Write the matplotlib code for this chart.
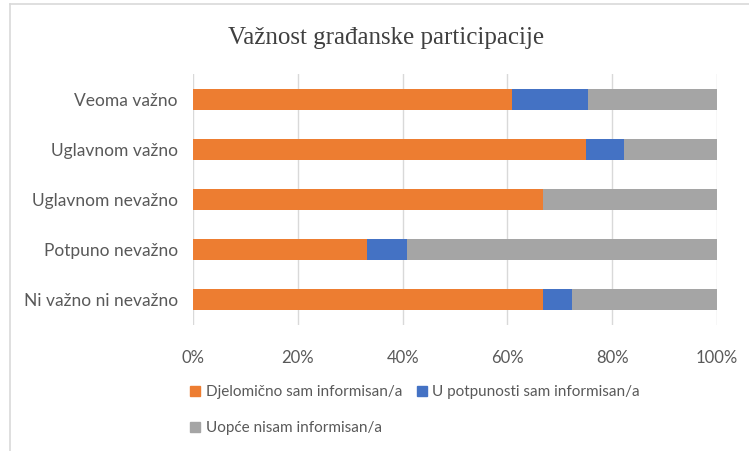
import numpy as np
import matplotlib
matplotlib.use('Agg')
import matplotlib.pyplot as plt
from matplotlib.lines import Line2D

categories = ['Ni važno ni nevažno', 'Potpuno nevažno', 'Uglavnom nevažno',
              'Uglavnom važno', 'Veoma važno']
djelomicno = [66.7, 33.3, 66.7, 75.0, 60.8]
potpuno = [5.6, 7.6, 0.0, 7.3, 14.6]
uopce = [27.7, 59.1, 33.3, 17.7, 24.6]
series_names = ['Djelomično sam informisan/a', 'U potpunosti sam informisan/a',
                'Uopće nisam informisan/a']
xticks = [0, 20, 40, 60, 80, 100]
xtick_labels = ['0%', '20%', '40%', '60%', '80%', '100%']

colors = ['#ED7D31', '#4472C4', '#A5A5A5']
text_col = '#595959'

plt.rcParams['font.family'] = ['Lato', 'DejaVu Sans']

fig = plt.figure(figsize=(7.49, 4.51), dpi=100)
W, H = 749, 451
ax = fig.add_axes([193 / W, 1 - 325 / H, 524 / W, 251 / H])

ind = np.arange(len(categories))
left = np.zeros(len(categories))
for vals, c in zip([djelomicno, potpuno, uopce], colors):
    ax.barh(ind, vals, height=0.42, left=left, color=c, zorder=3)
    left = left + np.array(vals)

ax.set_xlim(0, 100)
ax.set_ylim(-0.5, len(categories) - 0.5)
ax.set_xticks(xticks)
ax.set_xticklabels(xtick_labels, fontsize=12, color=text_col)
ax.set_yticks(ind)
ax.set_yticklabels(categories, fontsize=12.5, color=text_col)
ax.tick_params(length=0, pad=11)
ax.tick_params(axis='x', pad=18)
ax.grid(axis='x', color='#D9D9D9', linewidth=1, zorder=0)
for s in ax.spines.values():
    s.set_visible(False)

fig.text(386 / W, 1 - 38 / H, 'Važnost građanske participacije',
         family='Liberation Serif', fontsize=18, color='#404040',
         ha='center', va='center')

# legend, row-wise order
handles = [Line2D([], [], marker='s', linestyle='none', markersize=7.5,
                  color=c) for c in colors]
order = [0, 2, 1]
leg = fig.legend([handles[i] for i in order], [series_names[i] for i in order],
                 ncol=2, loc='upper left', bbox_to_anchor=(184 / W, 1 - 379 / H),
                 frameon=False, fontsize=11, handlelength=0.7,
                 handletextpad=0.35, columnspacing=0.9, labelspacing=1.45,
                 borderaxespad=0)
for t in leg.get_texts():
    t.set_color(text_col)

# chart border (left and top)
fig.add_artist(Line2D([10 / W, 10 / W], [0, 1 - 4 / H], color='#D9D9D9',
                      linewidth=1.2, transform=fig.transFigure))
fig.add_artist(Line2D([10 / W, 1], [1 - 4 / H, 1 - 4 / H], color='#D9D9D9',
                      linewidth=1.2, transform=fig.transFigure))

plt.savefig('out.png', dpi=100)
